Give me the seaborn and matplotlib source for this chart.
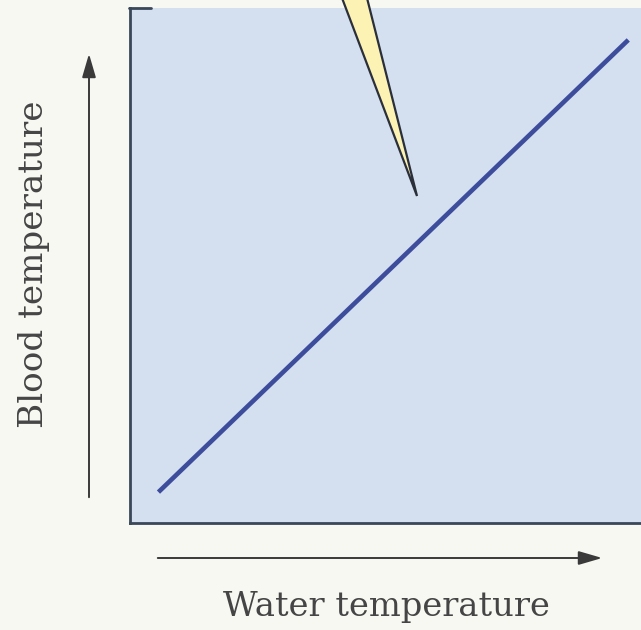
import matplotlib
matplotlib.use("Agg")
import matplotlib.pyplot as plt
from matplotlib.patches import Polygon, FancyArrowPatch
import seaborn as sns
import pandas as pd

# Conformer response: blood temperature follows water temperature
water_temp = [0.55, 9.63]
blood_temp = [0.60, 9.38]
x_label = "Water temperature"
y_label = "Blood temperature"

W, H = 641, 630
bg = "#f8f8f3"
panel = "#d4dff0"
line_color = "#3d4d9b"

sns.set_theme(style="white")
plt.rcParams["font.family"] = ["DejaVu Serif", "Liberation Serif"]

fig = plt.figure(figsize=(W / 100, H / 100), dpi=100, facecolor=bg)

def fx(px):
    return px / W

def fy(py):
    return 1 - py / H

ax = fig.add_axes([fx(130), fy(523), fx(641) - fx(130) + 0.01, fy(8) - fy(523)])
ax.set_facecolor(panel)
ax.set_xlim(0, 10)
ax.set_ylim(0, 10)
ax.set_xticks([])
ax.set_yticks([])
for side in ("top", "right"):
    ax.spines[side].set_visible(False)
for side in ("left", "bottom"):
    ax.spines[side].set_color("#3a475a")
    ax.spines[side].set_linewidth(2.0)

df = pd.DataFrame({"water": water_temp, "blood": blood_temp})
sns.lineplot(data=df, x="water", y="blood", ax=ax, color=line_color,
             linewidth=3.3, solid_capstyle="butt")
ax.set_xlabel("")
ax.set_ylabel("")

# short corner stroke at the top of the panel
fig.add_artist(plt.Line2D([fx(129), fx(151)], [fy(8), fy(8)], color="#3a475a", lw=2.0))

# pointer wedge from the callout above
wedge = Polygon([(fx(342), fy(-2)), (fx(367), fy(-2)), (fx(417), fy(196))],
                closed=True, facecolor="#fbf2b4", edgecolor="#2a2f3a", lw=1.6,
                transform=fig.transFigure, zorder=5)
fig.add_artist(wedge)

# axis direction arrows
arrow_kw = dict(arrowstyle="-|>,head_length=1.2,head_width=0.35", color="#3a3a3a",
                lw=1.4, mutation_scale=12, transform=fig.transFigure)
fig.add_artist(FancyArrowPatch((fx(89), fy(500)), (fx(89), fy(51)), **arrow_kw))
fig.add_artist(FancyArrowPatch((fx(155), fy(558)), (fx(605), fy(558)), **arrow_kw))

fig.text(fx(34), fy(264), y_label, rotation=90, ha="center", va="center",
         fontsize=24.6, color="#454545")
fig.text(fx(386), fy(607), x_label, ha="center", va="center",
         fontsize=24.3, color="#454545")

fig.savefig("out.png", dpi=100, facecolor=bg)
